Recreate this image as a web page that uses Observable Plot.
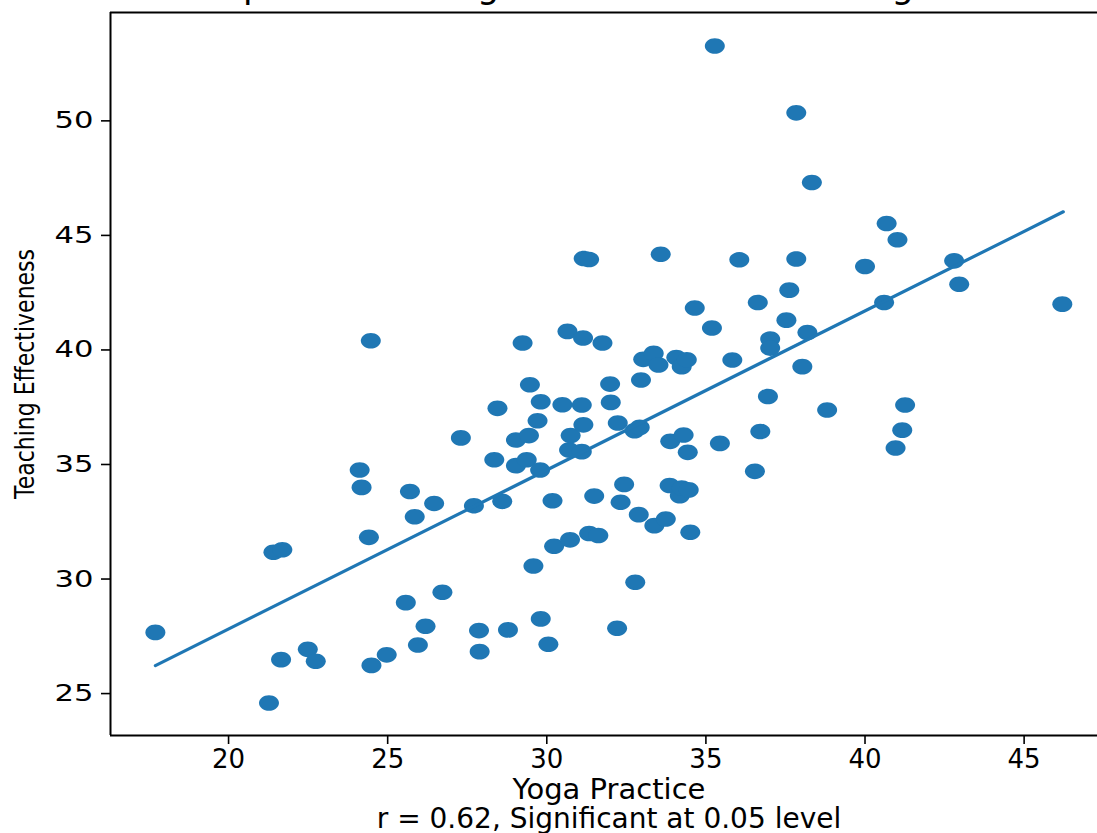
<!DOCTYPE html>
<html>
<head>
<meta charset="utf-8">
<script src="https://cdn.jsdelivr.net/npm/d3@7"></script>
<script src="https://cdn.jsdelivr.net/npm/@observablehq/plot@0.6"></script>
<style>
  html, body { margin: 0; padding: 0; background: white; overflow: hidden; width: 1097px; height: 833px; }
  #wrap { position: relative; width: 1097px; height: 833px; overflow: hidden; }
  #title { position: absolute; top: -31px; left: 0; width: 1208px; text-align: center; white-space: nowrap;
           font-family: "DejaVu Sans", sans-serif; font-size: 35px; line-height: 35px; color: black; z-index: 2; }
  #chart { position: absolute; top: 0; left: 0; width: 1107px; }
  #chart svg { max-width: none !important; width: 1107px; height: 833px; }
</style>
</head>
<body>
<div id="wrap">
  <div id="title">Relationship between Yoga Practice and Teaching Effectiveness</div>
  <div id="chart"></div>
</div>
<script>
// Yoga Practice scores (x)
const yoga = [
  17.70, 21.27, 21.41, 21.69, 21.65, 22.49, 22.74, 24.12, 24.18, 24.41,
  24.47, 24.49, 24.97, 25.57, 25.70, 25.85, 25.95, 26.19, 26.46, 26.72,
  27.30, 27.71, 27.87, 27.89, 28.35, 28.45, 28.60, 28.78, 29.03, 29.03,
  29.24, 29.37, 29.44, 29.47, 29.58, 29.71, 29.79, 29.81, 29.81, 30.05,
  30.18, 30.23, 30.49, 30.65, 30.70, 30.73, 30.75, 31.10, 31.10, 31.14,
  31.15, 31.16, 31.33, 31.33, 31.49, 31.62, 31.75, 31.99, 32.01, 32.23,
  32.21, 32.32, 32.43, 32.76, 32.78, 32.89, 32.92, 32.96, 33.03, 33.36,
  33.51, 33.38, 33.58, 33.74, 33.86, 33.88, 34.07, 34.18, 34.24, 34.24,
  34.30, 34.40, 34.43, 34.46, 34.51, 34.65, 35.19, 35.44, 35.28, 35.83,
  36.05, 36.54, 36.63, 36.71, 36.95, 37.02, 37.02, 37.53, 37.62, 37.84,
  37.84, 38.03, 38.19, 38.33, 38.81, 40.00, 40.60, 40.68, 41.02, 40.96,
  41.17, 41.26, 42.80, 42.96, 46.20
];
// Teaching Effectiveness scores (y)
const teaching = [
  27.67, 24.59, 31.17, 31.28, 26.48, 26.93, 26.41, 34.76, 34.00, 31.82,
  40.40, 26.23, 26.69, 28.97, 33.82, 32.72, 27.12, 27.94, 33.30, 29.42,
  36.16, 33.20, 27.75, 26.83, 35.21, 37.45, 33.39, 27.78, 36.07, 34.95,
  40.30, 35.21, 36.26, 38.48, 30.57, 36.91, 34.76, 37.74, 28.26, 27.15,
  33.42, 31.43, 37.61, 40.81, 35.63, 31.71, 36.26, 37.60, 35.56, 40.52,
  36.73, 43.99, 43.95, 31.99, 33.62, 31.90, 40.30, 38.51, 37.71, 36.81,
  27.85, 33.35, 34.13, 36.47, 29.86, 32.81, 36.62, 38.69, 39.59, 39.85,
  39.34, 32.33, 44.18, 32.62, 34.08, 36.01, 39.67, 33.64, 33.97, 39.27,
  36.29, 39.57, 35.53, 33.89, 32.04, 41.83, 40.96, 35.92, 53.27, 39.56,
  43.94, 34.70, 42.07, 36.44, 37.97, 40.48, 40.08, 41.30, 42.61, 43.97,
  50.35, 39.27, 40.76, 47.31, 37.38, 43.64, 42.07, 45.52, 44.81, 35.72,
  36.50, 37.60, 43.89, 42.87, 42.00
];
// Fitted regression line end points
const fitX = [17.70, 46.23];
const fitY = [26.22, 46.03];
// Axis ticks
const xTicks = [20, 25, 30, 35, 40, 45];
const yTicks = [25, 30, 35, 40, 45, 50];
const xLabel = "Yoga Practice";
const yLabel = "Teaching Effectiveness";
const caption = "r = 0.62, Significant at 0.05 level";

const points = yoga.map((x, i) => ({x, y: teaching[i]}));
const fit = fitX.map((x, i) => ({x, y: fitY[i]}));

const xDomain = [16.29, 47.62];
const yDomain = [23.17, 54.73];

const ellipse = {
  draw(ctx, size) {
    const r = Math.sqrt(size / Math.PI);
    const rx = r, ry = r * 0.78, k = 0.5523;
    ctx.moveTo(rx, 0);
    ctx.bezierCurveTo(rx, ry * k, rx * k, ry, 0, ry);
    ctx.bezierCurveTo(-rx * k, ry, -rx, ry * k, -rx, 0);
    ctx.bezierCurveTo(-rx, -ry * k, -rx * k, -ry, 0, -ry);
    ctx.bezierCurveTo(rx * k, -ry, rx, -ry * k, rx, 0);
    ctx.closePath();
  }
};

const blue = "#1f77b4";
const chart = Plot.plot({
  width: 1107,
  height: 833,
  marginLeft: 110,
  marginRight: 0,
  marginTop: 12,
  marginBottom: 98,
  style: {fontFamily: "DejaVu Sans, sans-serif", color: "black", background: "white", overflow: "hidden", maxWidth: "none"},
  x: {domain: xDomain, label: null},
  y: {domain: yDomain, label: null},
  marks: [
    Plot.axisX({ticks: xTicks, tickSize: 9, tickPadding: 5, fontSize: 26, strokeWidth: 1.6, label: null}),
    Plot.axisY({ticks: yTicks, tickSize: 9, tickPadding: 8, fontSize: 26, strokeWidth: 1.6, label: null}),
    Plot.ruleX([xDomain[0]], {stroke: "black", strokeWidth: 2}),
    Plot.ruleY(yDomain, {stroke: "black", strokeWidth: 2}),
    Plot.dot(points, {x: "x", y: "y", r: 10, symbol: ellipse, fill: blue, stroke: "none"}),
    Plot.line(fit, {x: "x", y: "y", stroke: blue, strokeWidth: 3.2}),
    Plot.text([xLabel], {frameAnchor: "bottom", lineAnchor: "middle", dy: 54, fontSize: 29, fill: "black"}),
    Plot.text([caption], {frameAnchor: "bottom", lineAnchor: "middle", dy: 84, fontSize: 28, fill: "black"}),
    Plot.text([yLabel], {frameAnchor: "left", textAnchor: "middle", lineAnchor: "middle", dx: -85, rotate: -90, fontSize: 25, fill: "black"})
  ]
});
document.getElementById("chart").appendChild(chart);

// Match the reference's glyph proportions
d3.select(chart).selectAll('g[aria-label="y-axis tick label"] text').each(function() {
  const t = this.getAttribute("transform") || "";
  this.setAttribute("transform", t + " scale(1.18,0.9)");
});
d3.select(chart).selectAll('g[aria-label="text"] text').each(function(d) {
  const t = this.getAttribute("transform") || "";
  if (t.includes("rotate")) this.setAttribute("transform", t + " scale(0.88,1.05)");
});
</script>
</body>
</html>
